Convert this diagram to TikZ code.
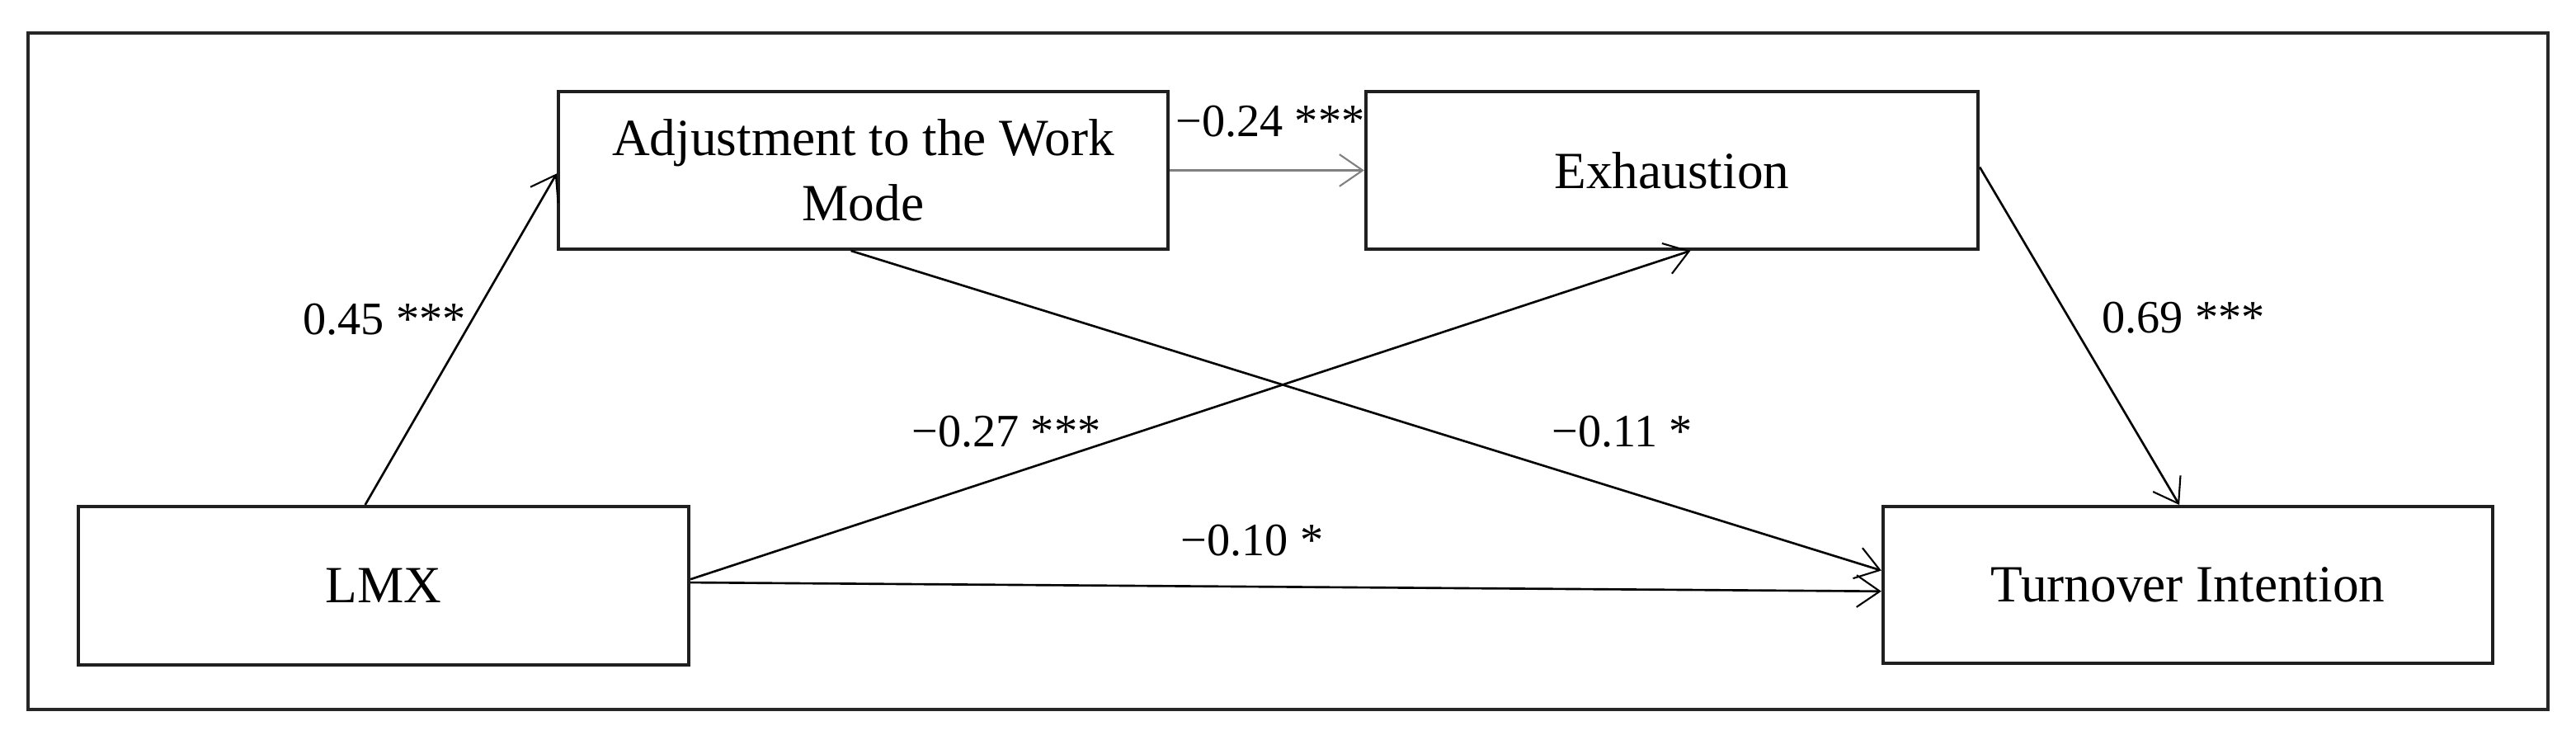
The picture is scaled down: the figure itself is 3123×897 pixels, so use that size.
\documentclass[tikz,border=0pt]{standalone}
\usepackage{fontspec}
\setmainfont{Liberation Serif}
\usetikzlibrary{arrows.meta,calc}
\begin{document}
\begin{tikzpicture}[x=0.01cm,y=-0.01cm,
  varbox/.style={draw=black!88, line width=1.1pt, minimum width=7.39cm, minimum height=1.91cm,
    inner sep=0pt, align=center, font=\fontsize{18}{22.5}\selectfont},
  path/.style={line width=0.75pt, -{Straight Barb[length=8pt,width=11pt,line width=0.6pt]}},
  coef/.style={inner sep=0pt, font=\fontsize{16}{19}\selectfont}]
\useasboundingbox (0,0) rectangle (3123,897);
\node[draw=black!85, line width=1.1pt, minimum width=30.53cm, minimum height=8.2cm, inner sep=0pt] (frame) at (1561.5,450) {};
\node[varbox] (adj) at (1046.5,206.5) {Adjustment to the Work\\Mode};
\node[varbox, minimum width=7.42cm] (exh) at (2027,206.5) {Exhaustion};
\node[varbox, minimum width=7.40cm, minimum height=1.92cm] (lmx) at (465,710) {LMX};
\node[varbox, minimum height=1.90cm] (turn) at (2652.5,709) {Turnover Intention};
% connectors
\draw[path] ($(lmx.north west)!0.47!(lmx.north east)$) -- ($(adj.north west)!0.52!(adj.south west)$);
\draw[path, draw=black!50] (adj.east) -- (exh.west);
\draw[path] ($(lmx.north east)!0.46!(lmx.south east)$) -- ($(exh.south west)!0.53!(exh.south east)$);
\draw[path] ($(adj.south west)!0.48!(adj.south east)$) -- ($(turn.north west)!0.41!(turn.south west)$);
\draw[path] ($(lmx.north east)!0.48!(lmx.south east)$) -- ($(turn.north west)!0.54!(turn.south west)$);
\draw[path] ($(exh.north east)!0.48!(exh.south east)$) -- ($(turn.north west)!0.486!(turn.north east)$);
% coefficients
\node[coef] (c1) at (466,387) {0.45 ***};
\node[coef] (c2) at (1540,147) {−0.24 ***};
\node[coef] (c3) at (1220,523) {−0.27 ***};
\node[coef] (c4) at (1967,523) {−0.11 *};
\node[coef] (c5) at (1518,655) {−0.10 *};
\node[coef] (c6) at (2647,385) {0.69 ***};
\end{tikzpicture}
\end{document}
